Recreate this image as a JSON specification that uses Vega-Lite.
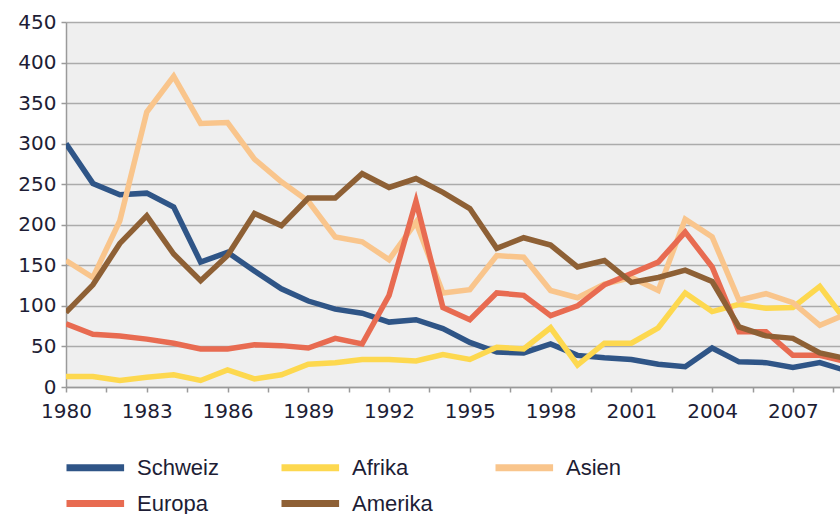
{
  "$schema": "https://vega.github.io/schema/vega-lite/v6.json",
  "width": 774,
  "height": 365,
  "autosize": {"type": "none"},
  "padding": {"left": 66, "top": 22, "right": 0, "bottom": 127},
  "background": "white",
  "config": {
    "view": {"fill": "#EFEFEF", "stroke": null},
    "font": "DejaVu Sans"
  },
  "datasets": {
    "d": [
      {"year": 1980, "region": "Schweiz", "value": 300}, {"year": 1981, "region": "Schweiz", "value": 251}, {"year": 1982, "region": "Schweiz", "value": 237}, {"year": 1983, "region": "Schweiz", "value": 239}, {"year": 1984, "region": "Schweiz", "value": 222}, {"year": 1985, "region": "Schweiz", "value": 154}, {"year": 1986, "region": "Schweiz", "value": 166}, {"year": 1987, "region": "Schweiz", "value": 143}, {"year": 1988, "region": "Schweiz", "value": 121}, {"year": 1989, "region": "Schweiz", "value": 106}, {"year": 1990, "region": "Schweiz", "value": 96}, {"year": 1991, "region": "Schweiz", "value": 91}, {"year": 1992, "region": "Schweiz", "value": 80}, {"year": 1993, "region": "Schweiz", "value": 83}, {"year": 1994, "region": "Schweiz", "value": 72}, {"year": 1995, "region": "Schweiz", "value": 55}, {"year": 1996, "region": "Schweiz", "value": 43}, {"year": 1997, "region": "Schweiz", "value": 42}, {"year": 1998, "region": "Schweiz", "value": 53}, {"year": 1999, "region": "Schweiz", "value": 39}, {"year": 2000, "region": "Schweiz", "value": 36}, {"year": 2001, "region": "Schweiz", "value": 34}, {"year": 2002, "region": "Schweiz", "value": 28}, {"year": 2003, "region": "Schweiz", "value": 25}, {"year": 2004, "region": "Schweiz", "value": 48}, {"year": 2005, "region": "Schweiz", "value": 31}, {"year": 2006, "region": "Schweiz", "value": 30}, {"year": 2007, "region": "Schweiz", "value": 24}, {"year": 2008, "region": "Schweiz", "value": 30}, {"year": 2009, "region": "Schweiz", "value": 20},
      {"year": 1980, "region": "Afrika", "value": 13}, {"year": 1981, "region": "Afrika", "value": 13}, {"year": 1982, "region": "Afrika", "value": 8}, {"year": 1983, "region": "Afrika", "value": 12}, {"year": 1984, "region": "Afrika", "value": 15}, {"year": 1985, "region": "Afrika", "value": 8}, {"year": 1986, "region": "Afrika", "value": 21}, {"year": 1987, "region": "Afrika", "value": 10}, {"year": 1988, "region": "Afrika", "value": 15}, {"year": 1989, "region": "Afrika", "value": 28}, {"year": 1990, "region": "Afrika", "value": 30}, {"year": 1991, "region": "Afrika", "value": 34}, {"year": 1992, "region": "Afrika", "value": 34}, {"year": 1993, "region": "Afrika", "value": 32}, {"year": 1994, "region": "Afrika", "value": 40}, {"year": 1995, "region": "Afrika", "value": 34}, {"year": 1996, "region": "Afrika", "value": 49}, {"year": 1997, "region": "Afrika", "value": 47}, {"year": 1998, "region": "Afrika", "value": 73}, {"year": 1999, "region": "Afrika", "value": 27}, {"year": 2000, "region": "Afrika", "value": 54}, {"year": 2001, "region": "Afrika", "value": 54}, {"year": 2002, "region": "Afrika", "value": 73}, {"year": 2003, "region": "Afrika", "value": 116}, {"year": 2004, "region": "Afrika", "value": 93}, {"year": 2005, "region": "Afrika", "value": 102}, {"year": 2006, "region": "Afrika", "value": 97}, {"year": 2007, "region": "Afrika", "value": 98}, {"year": 2008, "region": "Afrika", "value": 124}, {"year": 2009, "region": "Afrika", "value": 80},
      {"year": 1980, "region": "Asien", "value": 156}, {"year": 1981, "region": "Asien", "value": 135}, {"year": 1982, "region": "Asien", "value": 205}, {"year": 1983, "region": "Asien", "value": 339}, {"year": 1984, "region": "Asien", "value": 383}, {"year": 1985, "region": "Asien", "value": 325}, {"year": 1986, "region": "Asien", "value": 326}, {"year": 1987, "region": "Asien", "value": 281}, {"year": 1988, "region": "Asien", "value": 253}, {"year": 1989, "region": "Asien", "value": 229}, {"year": 1990, "region": "Asien", "value": 185}, {"year": 1991, "region": "Asien", "value": 179}, {"year": 1992, "region": "Asien", "value": 157}, {"year": 1993, "region": "Asien", "value": 203}, {"year": 1994, "region": "Asien", "value": 116}, {"year": 1995, "region": "Asien", "value": 120}, {"year": 1996, "region": "Asien", "value": 162}, {"year": 1997, "region": "Asien", "value": 160}, {"year": 1998, "region": "Asien", "value": 119}, {"year": 1999, "region": "Asien", "value": 110}, {"year": 2000, "region": "Asien", "value": 127}, {"year": 2001, "region": "Asien", "value": 135}, {"year": 2002, "region": "Asien", "value": 119}, {"year": 2003, "region": "Asien", "value": 207}, {"year": 2004, "region": "Asien", "value": 185}, {"year": 2005, "region": "Asien", "value": 107}, {"year": 2006, "region": "Asien", "value": 115}, {"year": 2007, "region": "Asien", "value": 104}, {"year": 2008, "region": "Asien", "value": 76}, {"year": 2009, "region": "Asien", "value": 90},
      {"year": 1980, "region": "Europa", "value": 78}, {"year": 1981, "region": "Europa", "value": 65}, {"year": 1982, "region": "Europa", "value": 63}, {"year": 1983, "region": "Europa", "value": 59}, {"year": 1984, "region": "Europa", "value": 54}, {"year": 1985, "region": "Europa", "value": 47}, {"year": 1986, "region": "Europa", "value": 47}, {"year": 1987, "region": "Europa", "value": 52}, {"year": 1988, "region": "Europa", "value": 51}, {"year": 1989, "region": "Europa", "value": 48}, {"year": 1990, "region": "Europa", "value": 60}, {"year": 1991, "region": "Europa", "value": 53}, {"year": 1992, "region": "Europa", "value": 113}, {"year": 1993, "region": "Europa", "value": 229}, {"year": 1994, "region": "Europa", "value": 98}, {"year": 1995, "region": "Europa", "value": 83}, {"year": 1996, "region": "Europa", "value": 116}, {"year": 1997, "region": "Europa", "value": 113}, {"year": 1998, "region": "Europa", "value": 88}, {"year": 1999, "region": "Europa", "value": 100}, {"year": 2000, "region": "Europa", "value": 126}, {"year": 2001, "region": "Europa", "value": 140}, {"year": 2002, "region": "Europa", "value": 154}, {"year": 2003, "region": "Europa", "value": 191}, {"year": 2004, "region": "Europa", "value": 148}, {"year": 2005, "region": "Europa", "value": 68}, {"year": 2006, "region": "Europa", "value": 68}, {"year": 2007, "region": "Europa", "value": 39}, {"year": 2008, "region": "Europa", "value": 39}, {"year": 2009, "region": "Europa", "value": 31},
      {"year": 1980, "region": "Amerika", "value": 92}, {"year": 1981, "region": "Amerika", "value": 126}, {"year": 1982, "region": "Amerika", "value": 177}, {"year": 1983, "region": "Amerika", "value": 211}, {"year": 1984, "region": "Amerika", "value": 164}, {"year": 1985, "region": "Amerika", "value": 131}, {"year": 1986, "region": "Amerika", "value": 162}, {"year": 1987, "region": "Amerika", "value": 214}, {"year": 1988, "region": "Amerika", "value": 199}, {"year": 1989, "region": "Amerika", "value": 233}, {"year": 1990, "region": "Amerika", "value": 233}, {"year": 1991, "region": "Amerika", "value": 263}, {"year": 1992, "region": "Amerika", "value": 246}, {"year": 1993, "region": "Amerika", "value": 257}, {"year": 1994, "region": "Amerika", "value": 240}, {"year": 1995, "region": "Amerika", "value": 220}, {"year": 1996, "region": "Amerika", "value": 171}, {"year": 1997, "region": "Amerika", "value": 184}, {"year": 1998, "region": "Amerika", "value": 175}, {"year": 1999, "region": "Amerika", "value": 148}, {"year": 2000, "region": "Amerika", "value": 156}, {"year": 2001, "region": "Amerika", "value": 129}, {"year": 2002, "region": "Amerika", "value": 135}, {"year": 2003, "region": "Amerika", "value": 144}, {"year": 2004, "region": "Amerika", "value": 130}, {"year": 2005, "region": "Amerika", "value": 74}, {"year": 2006, "region": "Amerika", "value": 63}, {"year": 2007, "region": "Amerika", "value": 60}, {"year": 2008, "region": "Amerika", "value": 42}, {"year": 2009, "region": "Amerika", "value": 35}
    ]
  },
  "data": {"name": "d"},
  "mark": {"type": "line", "strokeWidth": 5.5, "clip": true},
  "encoding": {
    "x": {
      "field": "year",
      "type": "quantitative",
      "scale": {"domain": [1980, 2008.75], "nice": false, "zero": false},
      "axis": {
        "title": null,
        "grid": false,
        "values": [1980, 1981.5, 1983, 1984.5, 1986, 1987.5, 1989, 1990.5, 1992, 1993.5, 1995, 1996.5, 1998, 1999.5, 2001, 2002.5, 2004, 2005.5, 2007, 2008.5],
        "labelExpr": "datum.value % 3 === 0 ? toString(datum.value) : ''",
        "labelFontSize": 20,
        "labelColor": "#1d1d35",
        "labelPadding": 9,
        "labelFlush": false,
        "labelOverlap": false,
        "tickSize": 5,
        "tickColor": "#9a9a9a",
        "tickWidth": 1.5,
        "domainColor": "#9a9a9a",
        "domainWidth": 1.5
      }
    },
    "y": {
      "field": "value",
      "type": "quantitative",
      "scale": {"domain": [0, 450], "nice": false},
      "axis": {
        "title": null,
        "values": [0, 50, 100, 150, 200, 250, 300, 350, 400, 450],
        "labelFontSize": 20,
        "labelColor": "#1d1d35",
        "labelPadding": 5,
        "tickSize": 5,
        "tickColor": "#9a9a9a",
        "tickWidth": 1.5,
        "domainColor": "#9a9a9a",
        "domainWidth": 1.5,
        "gridColor": "#ababab",
        "gridWidth": 1.5
      }
    },
    "color": {
      "field": "region",
      "type": "nominal",
      "scale": {
        "domain": ["Schweiz", "Afrika", "Asien", "Europa", "Amerika"],
        "range": ["#2F5587", "#FDD84F", "#F9C58C", "#E86B51", "#8E6035"]
      },
      "legend": {
        "title": null,
        "orient": "none",
        "legendX": -3,
        "legendY": 430,
        "direction": "horizontal",
        "columns": 3,
        "columnPadding": 48,
        "rowPadding": 6,
        "symbolType": "M-1,0H3.8",
        "symbolSize": 576,
        "symbolStrokeWidth": 7,
        "labelFont": "Liberation Sans",
        "labelFontSize": 22,
        "labelColor": "#1d1d35",
        "labelOffset": 43
      }
    }
  }
}
